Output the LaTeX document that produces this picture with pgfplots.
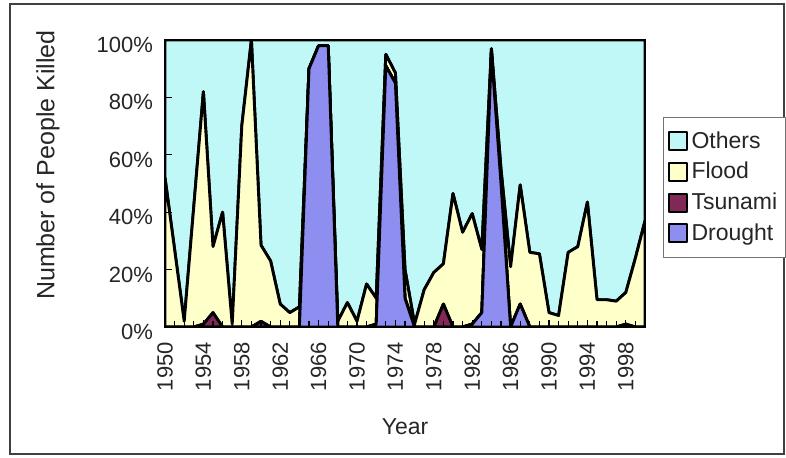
\documentclass[border=0pt]{standalone}
\usepackage{fontspec}
\setmainfont{Liberation Sans}
\usepackage{pgfplots}
\usepackage{pgfplotstable}
\pgfplotsset{compat=1.18}
\definecolor{cOthers}{RGB}{192,248,248}
\definecolor{cFlood}{RGB}{255,255,202}
\definecolor{cTsunami}{RGB}{128,40,86}
\definecolor{cDrought}{RGB}{142,142,240}
\pgfplotstableread{
year D T F O
1950 0 0 52 48
1951 0 0 27 73
1952 0 0 2 98
1953 0 0 42 58
1954 0 1 81 18
1955 0 5 23 72
1956 0 0 40 60
1957 0 0 1 99
1958 0 0 70 30
1959 0 0 100 0
1960 0 2 26.5 71.5
1961 0 0 23 77
1962 0 0 8 92
1963 0 0 5 95
1964 0 0 7 93
1965 90 0 0 10
1966 98 0 0 2
1967 98 0 0 2
1968 0 0 2 98
1969 0 0 8.5 91.5
1970 0 0 2 98
1971 0 0 15 85
1972 1 0 9 90
1973 91 0 4 5
1974 85 0 3.5 11.5
1975 10 0 10 80
1976 0 0 1 99
1977 0 0 13 87
1978 0 0 19 81
1979 0 8 14 78
1980 0 0 46.5 53.5
1981 0 0 33 67
1982 1 0 38.5 60.5
1983 5 0 22 73
1984 96 0 1 3
1985 50 0 5 45
1986 0 0 21 79
1987 8 0 41.5 50.5
1988 0 0 26 74
1989 0 0 25.5 74.5
1990 0 0 5 95
1991 0 0 4 96
1992 0 0 26 74
1993 0 0 28 72
1994 0 0 43.5 56.5
1995 0 0 9.5 90.5
1996 0 0 9.5 90.5
1997 0 0 9 91
1998 0 1 11 88
1999 0 0 24 76
2000 0 0 37 63
}\data
\begin{document}
\begin{tikzpicture}
\path[use as bounding box] (-82.5pt,-65.5pt) rectangle (310.5pt,163.5pt);
\draw[black!75, line width=1pt] (-77.5pt,-63.5pt) rectangle (309.5pt,161.5pt);
\begin{axis}[
  at={(0,0)}, anchor=south west,
  scale only axis, width=240pt, height=143.5pt,
  xmin=1950, xmax=2000, ymin=0, ymax=100,
  stack plots=y,
  axis on top,
  axis line style={line width=1pt, black},
  tick align=inside,
  major tick length=3.5pt, minor tick length=3pt,
  tick style={black, line width=0.6pt},
  xtick={1950,1954,...,1998},
  xticklabels={1950,1954,1958,1962,1966,1970,1974,1978,1982,1986,1990,1994,1998},
  minor xtick={1950,...,2000},
  ytick={0,20,40,60,80,100},
  yticklabels={0\%,20\%,40\%,60\%,80\%,100\%},
  xtick pos=bottom, ytick pos=left,
  tick label style={font=\fontsize{11}{13}\selectfont, text=black!85},
  xticklabel style={rotate=90, anchor=east},
  xticklabel shift=4pt,
  yticklabel style={yshift=-2.5pt},
  yticklabel shift=2.5pt,
  xlabel={Year},
  ylabel={Number of People Killed},
  every axis x label/.style={at={(axis description cs:0.5,-0.348)}, anchor=center,
    font=\fontsize{11.5}{13}\selectfont, text=black!85},
  every axis y label/.style={at={(axis description cs:-0.244,0.564)}, rotate=90, anchor=center,
    font=\fontsize{12.5}{14}\selectfont, text=black!85},
  legend style={at={(axis description cs:1.0375,0.732)}, anchor=north west,
    draw=black!55, line width=0.5pt, font=\fontsize{11.5}{13}\selectfont,
    inner xsep=2pt, inner ysep=5pt, row sep=1.5pt, cells={anchor=west}, text=black!85},
  reverse legend,
  legend image code/.code={\draw[#1, line width=1pt] (0pt,-4.5pt) rectangle (9pt,4.5pt);},
]
\addplot[fill=cDrought, draw=black, line width=1.45pt, line join=round] table[x=year,y=D] {\data} \closedcycle;
\addplot[fill=cTsunami, draw=black, line width=1.45pt, line join=round] table[x=year,y=T] {\data} \closedcycle;
\addplot[fill=cFlood, draw=black, line width=1.45pt, line join=round] table[x=year,y=F] {\data} \closedcycle;
\addplot[fill=cOthers, draw=black, line width=1.45pt, line join=round] table[x=year,y=O] {\data} \closedcycle;
\legend{Drought,Tsunami,Flood,Others}
\end{axis}
\end{tikzpicture}
\end{document}
